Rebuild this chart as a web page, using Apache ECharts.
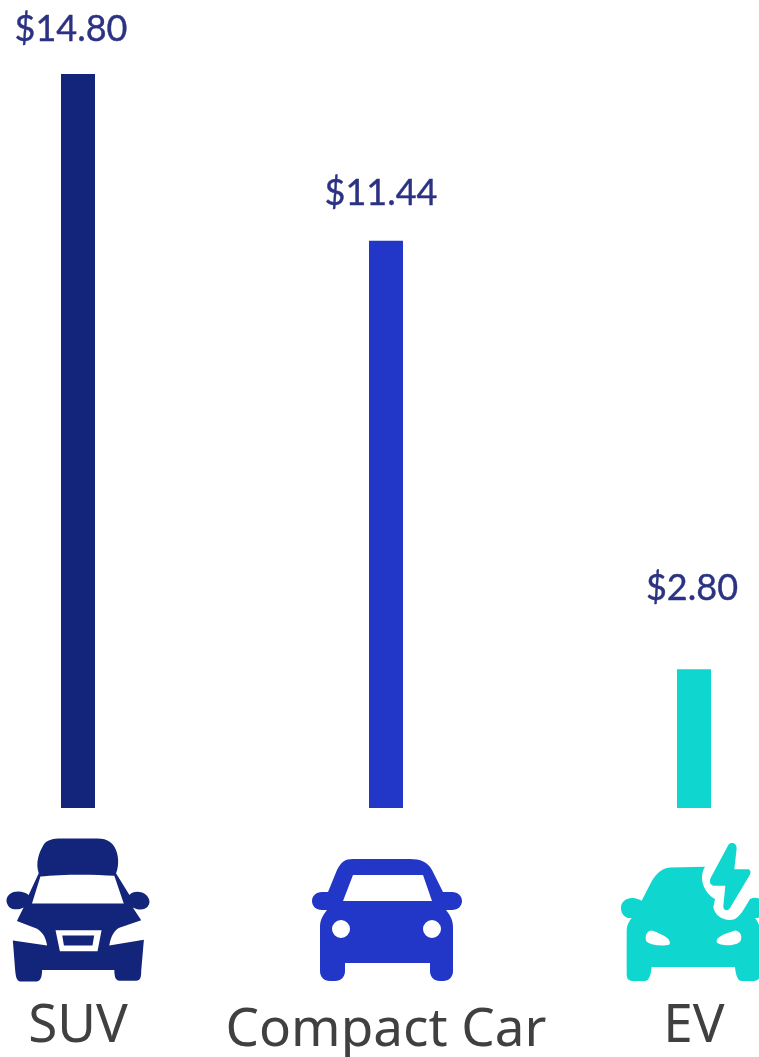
<!DOCTYPE html>
<html>
<head>
<meta charset="utf-8">
<style>html,body{margin:0;padding:0;background:#fff}#c{width:759px;height:1057px}</style>
<script src="https://cdn.jsdelivr.net/npm/echarts@6/dist/echarts.min.js"></script>
</head>
<body>
<div id="c"></div>
<script>
const categories = ['SUV', 'Compact Car', 'EV'];
const costs = [14.80, 11.44, 2.80];
const costLabels = ['$14.80', '$11.44', '$2.80'];
const barColors = ['#12257a', '#2236c8', '#0fd6cf'];

const suvIcon = 'path://M130 75C140 60 160 57 180 57L290 57C320 57 340 70 348 100C355 125 350 150 345 160L385 225C395 213 420 212 435 225C450 240 447 258 430 266C420 270 405 268 395 262L420 300L355 322C340 330 330 345 325 375L428 358L420 450C420 470 418 478 405 480L355 480C345 480 340 470 340 448L125 448C125 470 120 480 110 482L60 482C50 480 47 470 45 450L38 360L140 375C135 345 125 335 110 325L50 302L70 262C55 270 35 270 25 258C12 240 22 222 40 216C55 212 75 215 85 225L115 160C105 130 115 100 130 75Z'
  + 'M120 170L95 250L368 250L340 168C280 163 180 163 120 170Z'
  + 'M165 330L178 392L290 392L302 330Z'
  + 'M185 345L280 345L275 375L190 375Z';

const compactIcon = 'path://M353 859L410 859C420 859 428 862 432 870L443 892L452 892C458 892 462 896 462 901C462 906 458 910 452 910L446 910C450 915 453 920 453 927L453 971C453 977 449 981 443 981L440 981C434 981 430 977 430 971L430 963L345 963L345 971C345 977 341 981 335 981L330 981C324 981 320 977 320 971L320 927C320 920 323 915 327 910L322 910C316 910 312 906 312 901C312 896 316 892 322 892L328 892L337 870C341 862 345 859 353 859Z'
  + 'M353 875L343 901L432 901L423 875Z'
  + 'M332 929A9 9 0 0 0 350 929A9 9 0 0 0 332 929Z'
  + 'M423 929A9 9 0 0 0 441 929A9 9 0 0 0 423 929Z';

const evIcon = 'path://M870 140L975 138C955 170 970 215 1005 235L1000 260C1005 290 1040 305 1065 295C1085 285 1100 250 1110 235C1130 225 1155 235 1155 262C1155 280 1140 295 1125 292C1135 305 1140 315 1140 335L1140 460C1140 475 1135 482 1120 482L1085 482C1075 482 1068 470 1065 440L815 440C812 470 805 482 795 482L760 482C745 482 740 475 740 460L740 335C740 315 745 305 755 292C735 295 723 280 723 262C723 240 745 228 765 233C775 236 780 238 785 240L808 195C825 160 845 142 870 140Z'
  + 'M815 330C800 332 795 345 798 360C805 375 850 378 868 372C875 360 860 345 815 330Z'
  + 'M1065 330C1025 342 1008 352 1010 365C1020 378 1075 378 1082 360C1088 345 1080 332 1065 330Z'
  + 'M1045 72C1052 62 1070 65 1070 82L1063 145L1105 145C1112 147 1114 155 1108 165L1050 262C1042 275 1028 268 1030 255L1036 195L1000 195C990 192 987 183 992 172Z';

const iconPaths = [suvIcon, compactIcon, evIcon];
const iconSizes = [[143, 143], [150, 122], [144, 138]];
const iconOffsets = [[0, 102], [1, 112], [-1, 104]];
const labelOffsets = [[-7, -22], [-5, -24], [-2, -58]];
const nameKeys = ['a', 'b', 'a'];

const chart = echarts.init(document.getElementById('c'));
chart.setOption({
  backgroundColor: '#ffffff',
  animation: false,
  grid: { left: -76, top: 74, width: 924, height: 734, outerBoundsMode: 'none' },
  xAxis: {
    type: 'category',
    data: categories,
    axisLine: { show: false },
    axisTick: { show: false },
    axisLabel: {
      interval: 0,
      margin: 189,
      formatter: (v, i) => '{' + nameKeys[i] + '|' + v + '}',
      rich: {
        a: { fontFamily: 'Noto Sans', fontSize: 53, color: '#404040', lineHeight: 60, padding: [0, 0, 0, 0] },
        b: { fontFamily: 'Noto Sans', fontSize: 53, color: '#404040', lineHeight: 60, padding: [8, 0, 0, 0] }
      }
    }
  },
  yAxis: { type: 'value', min: 0, max: 14.8, show: false, splitLine: { show: false } },
  series: [
    {
      type: 'bar',
      barWidth: 34,
      data: costs.map((v, i) => ({
        value: v,
        itemStyle: { color: barColors[i] },
        label: {
          show: true,
          position: 'top',
          formatter: costLabels[i],
          offset: labelOffsets[i],
          fontFamily: 'Lato',
          fontSize: 36,
          color: '#2b3282',
          textBorderColor: '#2b3282',
          textBorderWidth: 0.4
        }
      }))
    },
    {
      type: 'scatter',
      clip: false,
      silent: true,
      data: categories.map((c, i) => ({
        value: [i, 0],
        symbol: iconPaths[i],
        symbolSize: iconSizes[i],
        symbolOffset: iconOffsets[i],
        itemStyle: { color: barColors[i], opacity: 1 }
      }))
    }
  ]
});
</script>
</body>
</html>
